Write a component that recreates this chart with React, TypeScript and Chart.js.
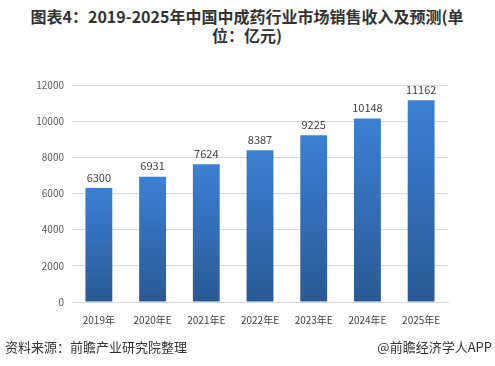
import React, { useEffect, useRef } from "react";
import { Chart, registerables } from "chart.js";

Chart.register(...registerables);

const categories = ["2019年", "2020年E", "2021年E", "2022年E", "2023年E", "2024年E", "2025年E"];
const revenue = [6300, 6931, 7624, 8387, 9225, 10148, 11162];
const yTicks = [0, 2000, 4000, 6000, 8000, 10000, 12000];

const FONT = "'Noto Sans CJK SC', 'Noto Sans', sans-serif";

const labelPlugin = {
  id: "barLabels",
  afterDatasetsDraw(chart: any) {
    const ctx = chart.ctx;
    const meta = chart.getDatasetMeta(0);
    ctx.save();
    ctx.font = `11px ${FONT}`;
    ctx.fillStyle = "#404040";
    ctx.textAlign = "center";
    ctx.textBaseline = "bottom";
    meta.data.forEach((bar: any, i: number) => {
      ctx.fillText(String(revenue[i]), bar.x, bar.y - 5);
    });
    ctx.restore();
  },
};

export default function App() {
  const ref = useRef<HTMLCanvasElement>(null);
  useEffect(() => {
    if (!ref.current) return;
    const chart = new Chart(ref.current, {
      type: "bar",
      data: {
        labels: categories,
        datasets: [
          {
            data: revenue,
            barPercentage: 0.5,
            categoryPercentage: 1,
            backgroundColor: (c: any) => {
              const ch = c.chart;
              const area = ch.chartArea;
              if (!area || c.raw == null) return "#2f6bb8";
              const ys = ch.scales.y;
              const top = ys.getPixelForValue(c.raw);
              const g = ch.ctx.createLinearGradient(0, top, 0, area.bottom);
              g.addColorStop(0, "#3b80d4");
              g.addColorStop(1, "#2a5996");
              return g;
            },
          },
        ],
      },
      options: {
        animation: false,
        responsive: false,
        layout: { padding: { left: 32, right: 47, top: 85, bottom: 40 } },
        plugins: { legend: { display: false }, tooltip: { enabled: false } },
        scales: {
          x: {
            grid: { display: false },
            border: { display: true, color: "#d9d9d9" },
            ticks: { color: "#404040", font: { size: 10, family: FONT }, padding: 4 },
            afterFit: (s: any) => { s.height = 24; },
          },
          y: {
            min: 0,
            max: 12000,
            afterBuildTicks: (s: any) => { s.ticks = yTicks.map((v) => ({ value: v })); },
            grid: { color: "#d9d9d9", drawTicks: false },
            border: { display: false },
            ticks: {
              color: "#595959",
              font: { size: 10, family: FONT },
              padding: 8,
              callback: (v: any) => String(v),
            },
            afterFit: (s: any) => { s.width = 40; },
          },
        },
      },
      plugins: [labelPlugin],
    });
    return () => chart.destroy();
  }, []);

  return (
    <div style={{ position: "fixed", left: 0, top: 0, width: 495, height: 366, background: "#fff", fontFamily: FONT }}>
      <div
        style={{
          position: "absolute",
          left: 22,
          top: 7,
          width: 450,
          textAlign: "center",
          fontWeight: "bold",
          fontSize: 16,
          lineHeight: "19px",
          color: "#333",
        }}
      >
        图表4：2019-2025年中国中成药行业市场销售收入及预测(单位：亿元)
      </div>
      <canvas ref={ref} width={495} height={366} style={{ position: "absolute", left: 0, top: 0 }} />
      <div style={{ position: "absolute", left: 5, top: 337, fontSize: 13, color: "#333", whiteSpace: "nowrap" }}>
        资料来源：前瞻产业研究院整理
      </div>
      <div style={{ position: "absolute", right: 3, top: 337, fontSize: 13, color: "#333", whiteSpace: "nowrap" }}>
        @前瞻经济学人APP
      </div>
    </div>
  );
}
